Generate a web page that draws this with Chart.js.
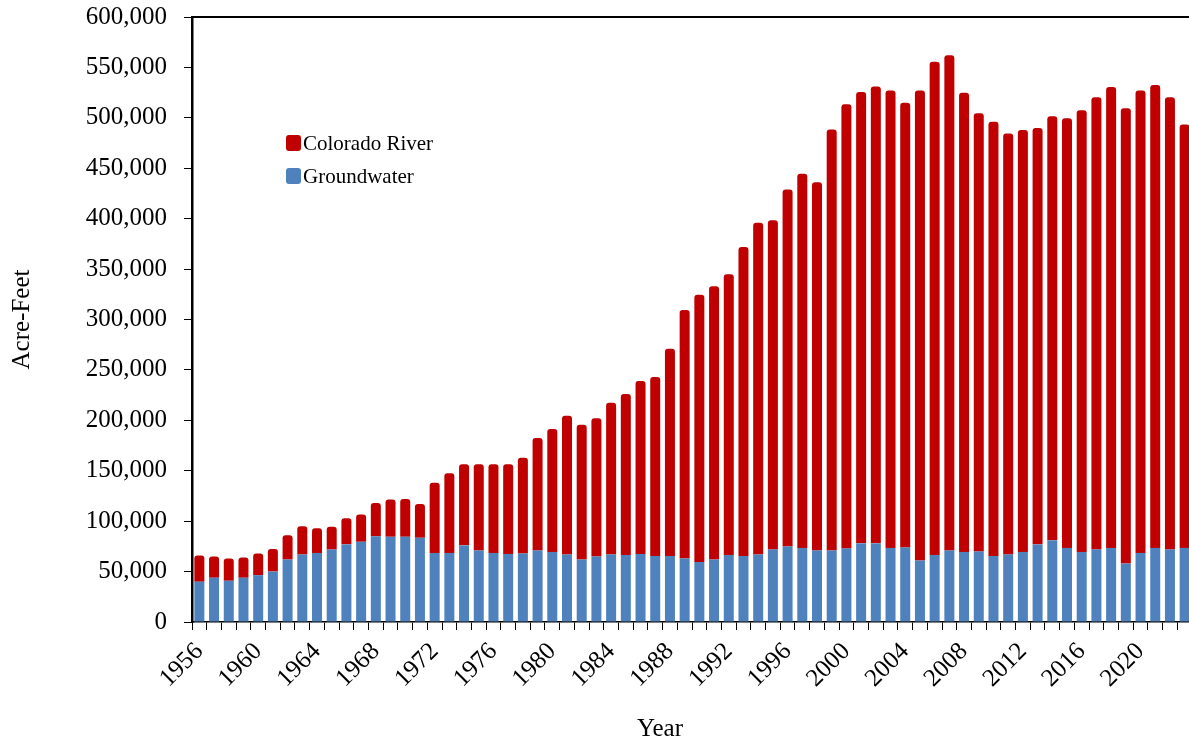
<!DOCTYPE html>
<html>
<head>
<meta charset="utf-8">
<script src="https://cdn.jsdelivr.net/npm/chart.js@4"></script>
<style>
    html, body { margin: 0; padding: 0; background: #fff; overflow: hidden; }
    #wrap { position: relative; width: 1192px; height: 745px; }
    #xTitle {
        position: absolute; left: 660px; top: 713px; transform: translateX(-50%);
        font: 25px "Liberation Serif", "DejaVu Serif", serif; line-height: 30px; color: #000;
    }
</style>
</head>
<body>
<div id="wrap">
    <canvas id="waterChart"></canvas>
    <div id="xTitle">Year</div>
</div>
<script>
const years = [
    '1956', '1957', '1958', '1959', '1960', '1961', '1962', '1963', '1964', '1965',
    '1966', '1967', '1968', '1969', '1970', '1971', '1972', '1973', '1974', '1975',
    '1976', '1977', '1978', '1979', '1980', '1981', '1982', '1983', '1984', '1985',
    '1986', '1987', '1988', '1989', '1990', '1991', '1992', '1993', '1994', '1995',
    '1996', '1997', '1998', '1999', '2000', '2001', '2002', '2003', '2004', '2005',
    '2006', '2007', '2008', '2009', '2010', '2011', '2012', '2013', '2014', '2015',
    '2016', '2017', '2018', '2019', '2020', '2021', '2022', '2023'
];

// every 4th year gets a label
const shownYears = ['1956', '1960', '1964', '1968', '1972', '1976', '1980', '1984', '1988',
    '1992', '1996', '2000', '2004', '2008', '2012', '2016', '2020'];

const groundwater = [
    40000, 44000, 41000, 44000, 46500, 50000, 62000, 67000, 68500, 72000,
    77000, 79500, 85000, 84500, 84500, 83500, 68500, 68500, 76000, 71000,
    68500, 67500, 68000, 71000, 69500, 67000, 62000, 65000, 67000, 66500,
    67500, 65500, 65500, 63000, 59500, 62000, 66500, 65500, 67000, 72000,
    75000, 73500, 71000, 71000, 73000, 78000, 78000, 73500, 74000, 61000,
    66500, 71000, 69500, 70000, 65500, 67000, 69500, 77000, 81000, 73500,
    69500, 72000, 73500, 58000, 68500, 73500, 72000, 73500
];

const coloradoRiver = [
    26000, 21000, 22000, 20000, 21500, 22500, 24000, 28000, 24500, 22500,
    26000, 27000, 33000, 37000, 37500, 33500, 69500, 79000, 80500, 85500,
    88000, 89000, 95000, 111500, 122000, 137500, 133500, 137000, 150500, 159500,
    171500, 177500, 205500, 246500, 265000, 271000, 278500, 306500, 329000, 326500,
    354000, 371000, 365000, 417500, 440500, 447500, 453000, 453500, 441000, 466000,
    489000, 491000, 455500, 434500, 430500, 417500, 418500, 413000, 420500, 426000,
    438000, 448500, 457000, 451500, 458500, 459000, 448500, 420000
];

const yTicks = { min: 0, max: 600000, step: 50000 };

const serif = '"Liberation Serif", "DejaVu Serif", serif';

// legend drawn inside the plot, top-left
const insideLegend = {
    id: 'insideLegend',
    afterDraw(chart) {
        const ctx = chart.ctx;
        const area = chart.chartArea;
        const items = chart.data.datasets.slice().reverse();
        ctx.save();
        ctx.font = '21px ' + serif;
        ctx.textBaseline = 'middle';
        items.forEach((ds, i) => {
            const x = area.left + 94;
            const y = area.top + 126 + i * 33;
            ctx.fillStyle = ds.backgroundColor;
            ctx.beginPath();
            ctx.roundRect(x, y - 8, 15, 16, 3);
            ctx.fill();
            ctx.fillStyle = '#000';
            ctx.fillText(ds.label, x + 17, y + 1);
        });
        // top border of the plot
        ctx.strokeStyle = '#000';
        ctx.lineWidth = 2;
        ctx.beginPath();
        ctx.moveTo(area.left, area.top);
        ctx.lineTo(area.right, area.top);
        ctx.stroke();
        ctx.restore();
    }
};

const ctx = document.getElementById('waterChart').getContext('2d');

new Chart(ctx, {
    type: 'bar',
    data: {
        labels: years,
        datasets: [
            {
                label: 'Groundwater',
                data: groundwater,
                backgroundColor: '#4F81BD',
                barPercentage: 0.68,
                categoryPercentage: 1
            },
            {
                label: 'Colorado River',
                data: coloradoRiver,
                backgroundColor: '#C00000',
                borderRadius: { topLeft: 3, topRight: 3 },
                borderSkipped: false,
                barPercentage: 0.68,
                categoryPercentage: 1
            }
        ]
    },
    plugins: [insideLegend],
    options: {
        responsive: true,
        maintainAspectRatio: false,
        animation: false,
        layout: { padding: { top: 17, right: 0, left: 0, bottom: 0 } },
        plugins: {
            legend: { display: false },
            tooltip: { enabled: false }
        },
        scales: {
            x: {
                stacked: true,
                afterFit: (scale) => {
                    scale.height = 123;
                    scale.paddingRight = 0;
                },
                border: { color: '#000', width: 1.5 },
                grid: {
                    drawOnChartArea: false,
                    color: '#000',
                    tickLength: 8
                },
                ticks: {
                    autoSkip: false,
                    minRotation: 45,
                    maxRotation: 45,
                    padding: 7,
                    color: '#000',
                    font: { family: serif, size: 25 },
                    callback: function (value, index) {
                        const label = years[index];
                        return shownYears.includes(label) ? label : '';
                    }
                }
            },
            y: {
                stacked: true,
                min: yTicks.min,
                max: yTicks.max,
                afterFit: (scale) => {
                    scale.width = 192;
                    scale.paddingTop = 0;
                    scale.paddingBottom = 0;
                },
                border: { color: '#000', width: 2.5 },
                grid: {
                    drawOnChartArea: false,
                    color: '#000',
                    tickLength: 8
                },
                ticks: {
                    stepSize: yTicks.step,
                    padding: 17,
                    color: '#000',
                    font: { family: serif, size: 25 },
                    callback: (v) => v.toLocaleString('en-US')
                },
                title: {
                    display: true,
                    text: 'Acre-Feet',
                    color: '#000',
                    font: { family: serif, size: 25 },
                    padding: { top: 7, bottom: 0 }
                }
            }
        }
    }
});
</script>
</body>
</html>
